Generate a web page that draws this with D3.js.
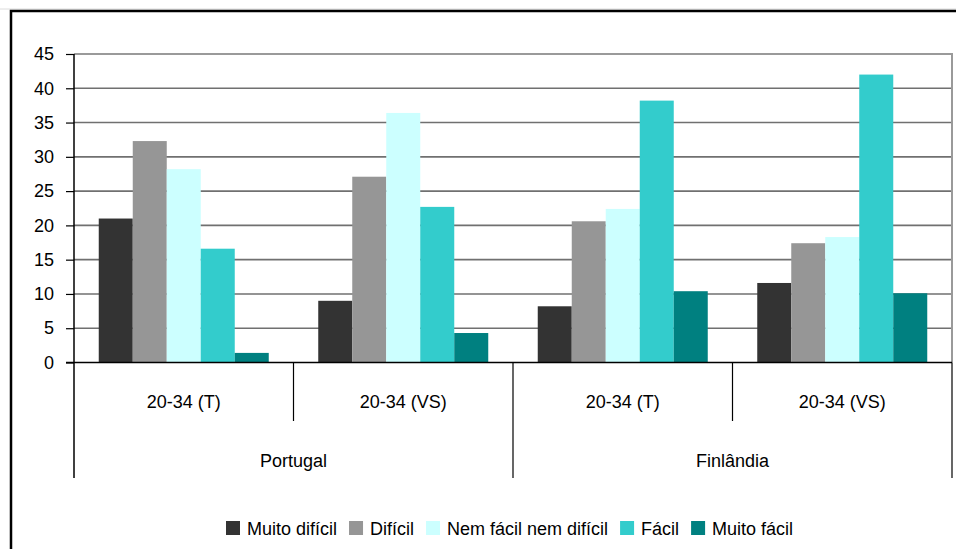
<!DOCTYPE html>
<html>
<head>
<meta charset="utf-8">
<script src="https://cdn.jsdelivr.net/npm/d3@7"></script>
<style>
html,body{margin:0;padding:0;background:#fff;}
svg{display:block;font-family:"Liberation Sans",Arial,sans-serif;}
</style>
</head>
<body>
<svg id="chart" width="956" height="549"></svg>
<script>
const categories = ["20-34 (T)", "20-34 (VS)", "20-34 (T)", "20-34 (VS)"];
const groups = ["Portugal", "Finlândia"];
const seriesNames = ["Muito difícil", "Difícil", "Nem fácil nem difícil", "Fácil", "Muito fácil"];
const muitoDificil = [21.0, 9.0, 8.2, 11.6];
const dificil = [32.3, 27.1, 20.6, 17.4];
const nemFacilNemDificil = [28.2, 36.4, 22.4, 18.3];
const facil = [16.6, 22.7, 38.2, 42.0];
const muitoFacil = [1.4, 4.3, 10.4, 10.1];
const yTicks = [0, 5, 10, 15, 20, 25, 30, 35, 40, 45];
const colors = ["#333333", "#969696", "#CCFFFF", "#33CCCC", "#008080"];

const seriesValues = [muitoDificil, dificil, nemFacilNemDificil, facil, muitoFacil];

const svg = d3.select("#chart");
const L = 74, R = 952, T = 54, B = 362.5;
const FS = "18px";

// outer frame
svg.append("line").attr("x1", 0).attr("x2", 956).attr("y1", 9).attr("y2", 9)
  .attr("stroke", "#dcdcdc").attr("stroke-width", 1);
svg.append("path").attr("d", "M11,560 L11,11 L960,11")
  .attr("fill", "none").attr("stroke", "#000").attr("stroke-width", 2.5);

const y = d3.scaleLinear().domain([0, 45]).range([B, T]);
const idx = categories.map((d, i) => i);
const x0 = d3.scaleBand().domain(idx).range([L, R]).padding(0);
const x1 = d3.scaleBand().domain(seriesNames).range([0, x0.bandwidth()]).paddingInner(0).paddingOuter(0.728);

// gridlines
svg.append("g").selectAll("line").data(yTicks.filter(t => t > 0 && t < 45)).join("line")
  .attr("x1", L).attr("x2", R).attr("y1", d => y(d)).attr("y2", d => y(d))
  .attr("stroke", "#707070").attr("stroke-width", 1.6);

// plot border top/right
svg.append("path").attr("d", `M${L},${y(45)} L${R},${y(45)} L${R},${B}`)
  .attr("fill", "none").attr("stroke", "#9a9a9a").attr("stroke-width", 2);

// bars
const gBars = svg.append("g");
idx.forEach(i => {
  gBars.append("g").attr("transform", `translate(${x0(i)},0)`)
    .selectAll("rect").data(seriesNames.map((s, k) => ({s, k, v: seriesValues[k][i]}))).join("rect")
    .attr("x", d => x1(d.s)).attr("width", x1.bandwidth())
    .attr("y", d => y(d.v)).attr("height", d => y(0) - y(d.v))
    .attr("fill", d => colors[d.k]);
});

// y axis
const yAxis = d3.axisLeft(y).tickValues(yTicks).tickSize(8).tickPadding(12).tickSizeOuter(0);
const ya = svg.append("g").attr("transform", `translate(${L},0)`).call(yAxis);
ya.select(".domain").remove();
ya.selectAll(".tick line").attr("stroke", "#000").attr("stroke-width", 1.2);
ya.selectAll(".tick text").attr("font-size", FS).attr("font-family", "'Liberation Sans',Arial,sans-serif").attr("fill", "#000");

// axes lines
svg.append("line").attr("x1", L).attr("x2", L).attr("y1", T).attr("y2", 478)
  .attr("stroke", "#000").attr("stroke-width", 1.5);
svg.append("line").attr("x1", L - 8).attr("x2", R).attr("y1", B).attr("y2", B)
  .attr("stroke", "#000").attr("stroke-width", 1.5);

// category separators
const bw = x0.bandwidth();
[1, 3].forEach(i => {
  svg.append("line").attr("x1", x0(i)).attr("x2", x0(i)).attr("y1", B).attr("y2", 421)
    .attr("stroke", "#000").attr("stroke-width", 1.2);
});
[2].forEach(i => {
  svg.append("line").attr("x1", x0(i)).attr("x2", x0(i)).attr("y1", B).attr("y2", 478)
    .attr("stroke", "#000").attr("stroke-width", 1.2);
});
svg.append("line").attr("x1", R).attr("x2", R).attr("y1", B).attr("y2", 478)
  .attr("stroke", "#000").attr("stroke-width", 1.2);

// category labels
svg.append("g").selectAll("text").data(idx).join("text")
  .attr("x", i => x0(i) + bw / 2).attr("y", 408)
  .attr("text-anchor", "middle").attr("font-size", FS).attr("fill", "#000")
  .text(i => categories[i]);
svg.append("g").selectAll("text").data(groups).join("text")
  .attr("x", (g, k) => x0(k * 2) + bw)
  .attr("y", 467).attr("text-anchor", "middle").attr("font-size", FS).attr("fill", "#000")
  .text(g => g);

// legend
const leg = svg.append("g");
let lx = 226;
seriesNames.forEach((s, k) => {
  leg.append("rect").attr("x", lx).attr("y", 521).attr("width", 14).attr("height", 14).attr("fill", colors[k]);
  const t = leg.append("text").attr("x", lx + 21).attr("y", 535).attr("font-size", FS).attr("fill", "#000").text(s);
  lx += 21 + t.node().getComputedTextLength() + 12;
});
</script>
</body>
</html>
